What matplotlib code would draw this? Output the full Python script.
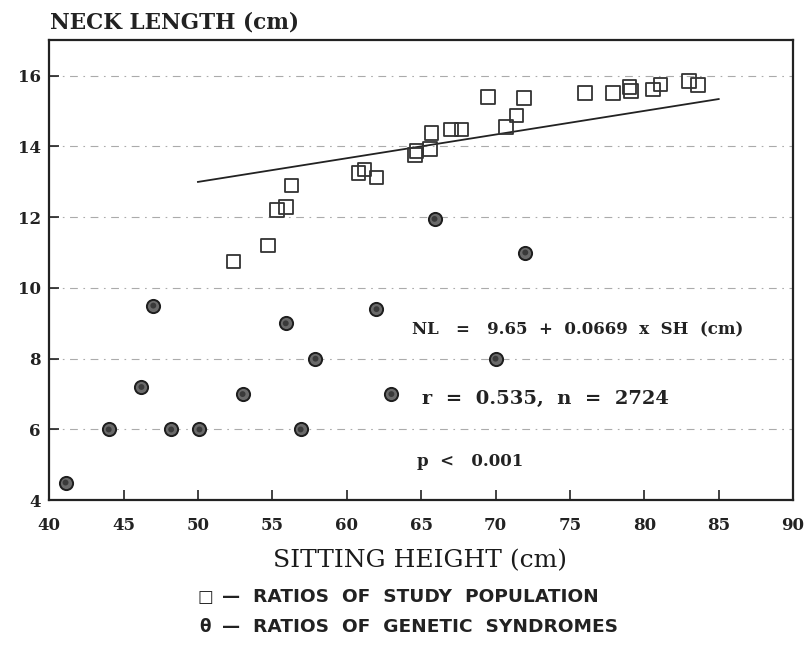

'''
Neck length against sitting height,
study population and genetic syndromes
'''


import numpy as np
import matplotlib.pyplot as plt


##################################

# ratios of study population (squares)
studySH=[52.4,54.7,55.3,55.9,56.3,60.8,61.2,62.0,64.6,64.7,65.6,65.7,67.0,67.7,69.5,
         70.7,71.4,71.9,76.0,77.9,79.0,79.1,80.6,81.1,83.0,83.6]
studyNL=[10.75,11.2,12.2,12.28,12.9,13.25,13.35,13.12,13.75,13.87,13.92,14.38,14.48,14.48,15.4,
         14.55,14.87,15.36,15.5,15.5,15.68,15.57,15.6,15.75,15.85,15.74]

# ratios of genetic syndromes (circles)
synSH=[41.1,44.0,46.2,47.0,48.2,50.1,53.0,55.9,56.9,57.9,62.0,63.0,65.9,70.0,72.0]
synNL=[4.5,6.0,7.2,9.5,6.0,6.0,7.0,9.0,6.0,8.0,9.4,7.0,11.95,8.0,11.0]

# regression line
intercept=9.65
slope=0.0669
lineRange=[50,85]

xTicks=list(range(40,95,5))
yTicks=list(range(4,18,2))

ink='#222222'
serif=['DejaVu Serif']


##################################

def plotChart(outName):
  '''Draw the scatter, fit line and notes'''

  fig=plt.figure(figsize=(8.06,6.48),dpi=100)
  ax=fig.add_axes([0.061,0.228,0.923,0.710])

  # dash-dot grid across the plot
  for y in yTicks[1:]:
    ax.axhline(y,color='#ababab',lw=0.8,ls=(0,(7,5,1.5,5)),zorder=0)

  # line of best fit
  x=np.array(lineRange,dtype=float)
  ax.plot(x,intercept+slope*x,color=ink,lw=1.3,zorder=2)

  # the two groups
  ax.scatter(studySH,studyNL,marker='s',s=95,facecolors='none',edgecolors='#333333',linewidths=1.3,zorder=3)
  ax.scatter(synSH,synNL,marker='o',s=90,facecolors='#6a6a6a',edgecolors='#1e1e1e',linewidths=1.4,zorder=3)
  ax.scatter(synSH,synNL,marker='o',s=18,facecolors='#3a3a3a',edgecolors='none',zorder=4)

  ax.set_xlim(40,90)
  ax.set_ylim(4,17)
  ax.set_xticks(xTicks)
  ax.set_yticks(yTicks)
  ax.tick_params(direction='in',length=7,width=1.2,colors=ink,labelsize=12)
  ax.tick_params(axis='x',pad=12)
  ax.tick_params(axis='y',pad=6)
  for lab in ax.get_xticklabels()+ax.get_yticklabels():
    lab.set_family(serif)
    lab.set_fontweight('bold')
  for sp in ax.spines.values():
    sp.set_linewidth(1.6)
    sp.set_color(ink)

  # axis titles
  fig.text(0.062,0.966,'NECK LENGTH (cm)',family=serif,fontweight='bold',fontsize=15.5,color=ink,va='center')
  fig.text(0.521,0.135,'SITTING HEIGHT (cm)',family=serif,fontsize=18,color='#1a1a1a',ha='center',va='center')

  # statistics
  ax.text(64.4,8.82,'NL   =   9.65  +  0.0669  x  SH  (cm)',family=serif,fontweight='bold',fontsize=12,color=ink,va='center')
  ax.text(65.07,6.85,'r  =  0.535,  n  =  2724',family=serif,fontweight='bold',fontsize=14,color=ink,va='center')
  ax.text(64.7,5.1,'p  <   0.001',family=serif,fontweight='bold',fontsize=12,color=ink,va='center')

  # legend written underneath
  fig.text(0.2543,0.0787,'\u25a1',fontweight='bold',fontsize=12,color=ink,ha='center',va='center')
  fig.text(0.2543,0.0324,'\u03b8',fontweight='bold',fontsize=12,color=ink,ha='center',va='center')
  for yy in [0.0787,0.0324]:
    fig.text(0.2754,yy,'\u2014',fontweight='bold',fontsize=13,color=ink,va='center')
  fig.text(0.3139,0.0787,'RATIOS  OF  STUDY  POPULATION',fontweight='bold',fontsize=13.3,color=ink,va='center')
  fig.text(0.3139,0.0324,'RATIOS  OF  GENETIC  SYNDROMES',fontweight='bold',fontsize=13.3,color=ink,va='center')

  plt.savefig(outName)
  plt.close()
  print("Graph drawn to",outName)


##################################

if __name__=="__main__":
  '''The main block'''
  plotChart("out.png")
